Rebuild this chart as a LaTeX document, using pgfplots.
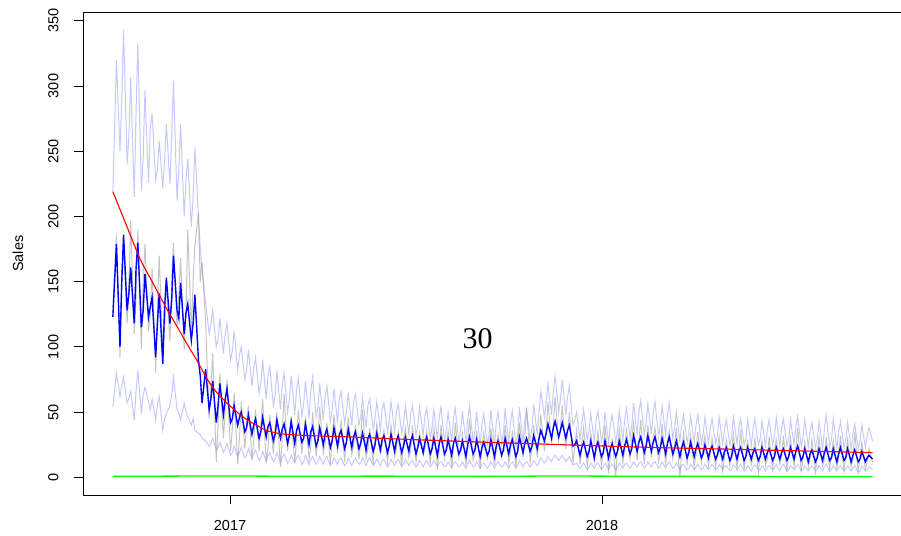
\documentclass[border=0pt]{standalone}
\usepackage{pgfplots}
\pgfplotsset{compat=1.18}
\usepackage{pgfplotstable}
\usepackage{fontspec}
\setmainfont{Liberation Sans}
\newfontfamily\annotfont{Liberation Serif}

\definecolor{band}{RGB}{200,200,255}
\definecolor{obs}{RGB}{150,150,150}

% day = days since 2017-01-01; up/lo = interval bounds, fit = fitted sales, obs = observed sales
\pgfplotstableread{
day up lo fit obs
-115 219 54 123 130
-111.5 320 80 179 186
-108 250 62 100 92
-106.25 290 70 150 160
-104.5 343 77 186 175
-101 240 57 128 118
-99.25 262 61 141 150
-97.5 307 66 161 197
-94 215 44 118 110
-92.25 280 66 160 138
-90.5 333 82 180 190
-87 220 49 115 98
-85.25 245 63 128 150
-83.5 297 69 156 179
-80 226 58 123 112
-78.25 268 52 131 125
-76.5 279 60 138 160
-73 228 44 92 80
-71.25 236 56 118 130
-69.5 258 62 141 170
-66 222 36 87 95
-64.25 243 45 130 112
-62.5 271 49 153 150
-59 225 55 118 104
-57.25 262 63 136 150
-55.5 304 77 170 180
-52 212 52 128 115
-50.25 236 49 122 140
-48.5 271 44 149 168
-45 200 57 110 98
-43.25 228 50 126 125
-41.5 244 47 133 190
-38 192 40 105 112
-36.25 215 45 118 150
-34.5 253 36 140 178
-31 200 34 90 203
-29.25 176 33 78 150
-27.5 160 30 57 165
-24 134 28 83 120
-20.5 110 24 52 45
-18.75 118 26 60 70
-17 128 30 74 95
-13.5 100 21 42 12
-11.75 106 23 55 40
-10 122 27 72 80
-6.5 95 19 48 30
-4.75 110 22 60 52
-3 118 26 68 75
0.5 90 17 42 20
2.25 97 19 45 38
4 112 24 55 65
7.5 82 16 40 10
9.25 94 19 46 30
11 100 23 50 58
14.5 75 15 35 22
16.25 82 17 38 42
18 98 22 48 55
21.5 70 14 33 14
23.25 84 18 40 28
25 92 21 45 52
28.5 64 13 30 20
30.25 72 15 35 40
32 90 20 46 60
35.5 60 12 31 12
37.25 78 17 39 22
39 85 19 42 48
42.5 55 12 28 18
44.25 63 14 33 38
46 82 19 44 50
49.5 52 11 30 8
51.25 70 15 37 30
53 80 18 41 64
56.5 50 11 26 20
58.25 60 13 32 36
60 78 17 43 44
63.5 48 11 26 12
65.25 67 15 36 28
67 76 17 40 52
70.5 47 10 27 18
72.25 56 12 30 34
74 74 17 41 45
77.5 45 10 25 14
79.25 66 14 35 24
81 77 16 39 50
84.5 46 10 24 16
86.25 54 12 28 32
88 72 16 38 54
91.5 44 10 25 18
93.25 62 14 33 26
95 70 16 37 42
98.5 43 9 23 10
100.25 52 11 28 30
102 68 15 38 48
105.5 42 10 24 20
107.25 60 14 33 28
109 66 15 36 44
112.5 41 9 22 12
114.25 50 11 27 32
116 65 15 37 46
119.5 40 9 23 17
121.25 58 13 31 25
123 64 15 35 40
126.5 40 10 22 14
128.25 47 11 26 30
130 61 15 34 52
133.5 38 9 21 15
135.25 55 13 30 22
137 60 15 33 38
140.5 37 9 20 10
142.25 45 11 25 28
144 58 14 34 41
147.5 36 9 21 18
149.25 52 13 29 24
151 57 14 32 36
154.5 35 8 19 12
156.25 44 10 24 26
158 58 14 33 40
161.5 35 9 20 16
163.25 50 12 28 22
165 56 14 32 35
168.5 34 8 19 9
170.25 42 10 24 27
172 55 14 31 38
175.5 33 9 20 15
177.25 49 12 28 20
179 55 13 32 40
182.5 33 8 18 12
184.25 40 10 23 25
186 54 13 30 34
189.5 32 8 19 17
191.25 47 11 27 22
193 53 13 31 36
196.5 30 8 18 10
198.25 39 10 22 26
200 52 13 30 38
203.5 29 8 17 9
205.25 46 11 26 20
207 54 12 31 40
210.5 28 8 18 14
212.25 36 9 21 24
214 50 12 29 35
217.5 27 7 17 8
219.25 45 11 26 22
221 53 12 30 42
224.5 27 8 18 15
226.25 35 9 21 20
228 51 12 28 33
231.5 26 7 16 10
233.25 44 11 25 26
235 55 13 31 45
238.5 27 8 18 13
240.25 34 9 21 18
242 50 12 29 36
245.5 25 7 16 7
247.25 41 10 23 24
249 49 11 27 34
252.5 25 7 17 14
254.25 33 9 20 20
256 52 12 29 38
259.5 24 7 16 9
261.25 42 10 24 22
263 50 12 28 33
266.5 26 8 17 15
268.25 34 9 21 24
270 53 12 30 40
273.5 25 7 18 11
275.25 43 10 25 20
277 51 12 29 36
280.5 24 7 16 8
282.25 33 9 20 24
284 54 13 31 42
287.5 26 8 19 16
289.25 44 11 26 28
291 52 12 30 53
294.5 28 8 20 12
296.25 38 10 24 22
298 56 13 32 40
301.5 33 9 22 15
303.25 50 12 30 30
305 66 15 36 48
308.5 46 11 28 20
310.25 58 13 34 36
312 72 16 41 58
315.5 48 12 30 25
317.25 66 15 38 40
319 78 17 43 62
322.5 50 13 31 28
324.25 60 15 36 38
326 75 17 42 55
329.5 48 12 30 22
331.25 62 14 36 34
333 70 16 40 50
336.5 40 10 24 12
338.25 44 10 25 22
340 50 11 28 36
343.5 29 7 17 10
345.25 42 9 23 26
347 52 11 27 38
350.5 28 6 16 8
352.25 36 8 20 18
354 49 11 28 34
357.5 27 7 15 12
359.25 44 10 23 24
361 51 11 27 35
364.5 28 6 16 9
366.25 34 8 19 20
368 50 11 28 40
371.5 26 6 15 5
373.25 41 9 22 16
375 48 10 26 30
378.5 27 6 16 0
380.25 36 8 20 24
382 51 11 28 37
385.5 28 7 17 11
387.25 44 10 24 22
389 53 11 29 36
392.5 30 7 18 14
394.25 40 9 22 30
396 57 12 32 42
399.5 33 8 20 13
401.25 50 11 27 28
403 59 12 31 44
406.5 32 7 19 10
408.25 42 9 24 24
410 56 12 32 40
413.5 33 8 20 15
415.25 50 11 27 30
417 58 12 31 38
420.5 31 7 19 12
422.25 40 9 23 20
424 55 12 30 41
427.5 32 7 18 9
429.25 48 10 26 26
431 57 12 31 36
434.5 30 7 18 14
436.25 38 8 22 24
438 50 11 28 38
441.5 28 6 16 0
443.25 40 9 23 20
445 48 10 27 34
448.5 27 6 15 10
450.25 34 7 19 22
452 47 10 27 33
455.5 27 6 16 8
457.25 40 8 22 18
459 48 10 26 35
462.5 26 6 15 11
464.25 33 7 18 24
466 46 10 25 32
469.5 26 6 15 9
471.25 38 8 21 18
473 45 10 24 30
476.5 26 6 14 8
478.25 32 7 17 22
480 46 10 23 31
483.5 25 6 14 5
485.25 37 8 20 16
487 44 9 23 29
490.5 25 5 13 9
492.25 31 6 16 20
494 46 10 24 33
497.5 26 6 14 7
499.25 38 8 20 18
501 45 10 23 37
504.5 25 5 13 6
506.25 30 6 16 20
508 44 9 23 28
511.5 24 5 14 10
513.25 37 8 19 16
515 45 10 22 30
518.5 25 6 13 4
520.25 30 6 16 18
522 43 9 23 28
525.5 24 5 14 9
527.25 36 8 19 14
529 44 9 22 31
532.5 25 6 13 6
534.25 31 7 16 20
536 46 10 23 29
539.5 24 5 14 10
541.25 37 8 19 16
543 45 10 22 32
546.5 24 5 13 4
548.25 30 6 16 18
550 44 9 23 30
553.5 25 6 14 8
555.25 38 8 20 22
557 47 10 24 38
560.5 24 5 13 5
562.25 30 6 16 14
564 44 9 22 27
567.5 23 5 12 8
569.25 35 7 18 16
571 42 9 21 29
574.5 23 5 12 4
576.25 29 6 15 18
578 43 9 22 30
581.5 22 5 13 9
583.25 37 8 19 14
585 48 10 23 31
588.5 23 5 13 6
590.25 29 6 15 18
592 45 9 22 28
595.5 22 5 12 7
597.25 35 7 18 15
599 43 9 23 32
602.5 23 5 13 5
604.25 29 6 15 17
606 42 9 22 29
609.5 22 5 12 8
611.25 34 7 17 14
613 41 9 21 35
616.5 22 4 12 4
618.25 28 5 14 16
620 40 9 20 27
623.5 23 5 12 6
625.25 32 6 15 12
627 38 8 17 22
630.5 28 6 14 12
}\salesdata

% smooth trend
\pgfplotstableread{
day trend
-115 219
-100 190
-88 167
-75 148
-62 129
-50 113
-42 102
-32 89
-23 76
-13 65
-3 57
7 50
17 44
27 39.5
36 36
46 34
56 33
70 32.3
90 31.7
118 31
160 29.6
196 28.5
250 27
329 25
412 23
471 22
550 20.5
630.5 19
}\trenddata

% baseline
\pgfplotstableread{
day base
-115 0.8
-60 1.0
0 1.1
60 0.9
150 1.0
250 0.8
320 1.1
400 0.9
500 0.8
630.5 0.7
}\basedata

\begin{document}
\begin{tikzpicture}
\begin{axis}[
  at={(0,0)}, anchor=south west,
  scale only axis, width=820.6pt, height=483.3pt,
  xmin=-144.3, xmax=661, ymin=-13.7, ymax=356.7,
  axis line style={black, line width=0.9pt},
  xtick={0,365}, xticklabels={2017,2018},
  ytick={0,50,100,150,200,250,300,350},
  xtick pos=lower, ytick pos=left,
  tick align=outside, major tick length=9pt,
  tick style={black, line width=0.9pt},
  font=\fontsize{14.5}{17}\selectfont,
  /pgf/number format/assume math mode=true,
  xticklabel style={anchor=north, inner ysep=15.8pt},
  yticklabel style={rotate=90, anchor=south, inner ysep=15.3pt},
  ylabel={Sales},
  every axis y label/.style={at={(axis description cs:-0.0792,0.5)}, rotate=90, anchor=center},
  clip=true,
]
\addplot[band, line width=1pt] table[x=day, y=up] {\salesdata};
\addplot[band, line width=1pt] table[x=day, y=lo] {\salesdata};
\addplot[obs, opacity=0.55, line width=1pt] table[x=day, y=obs] {\salesdata};
\addplot[blue, line width=1.4pt] table[x=day, y=fit] {\salesdata};
\addplot[red, line width=1.1pt, smooth] table[x=day, y=trend] {\trenddata};
\addplot[green, line width=1.3pt] table[x=day, y=base] {\basedata};
\node[font=\annotfont\fontsize{30}{34}\selectfont, inner sep=0pt] at (axis cs:243,106.6) {30};
\end{axis}
\pgfresetboundingbox
\useasboundingbox (-83pt,-39.7pt) rectangle (818pt,495.3pt);
\end{tikzpicture}
\end{document}
